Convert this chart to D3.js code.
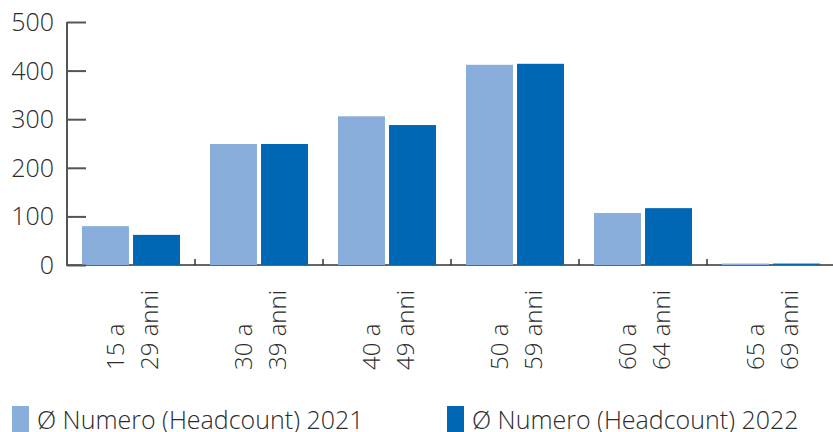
<!DOCTYPE html>
<html>
<head>
<meta charset="utf-8">
<script src="https://cdn.jsdelivr.net/npm/d3@7"></script>
<style>
  body { margin: 0; background: #fff; }
  svg { display: block; font-family: 'Open Sans', sans-serif; }
  .lbl { fill: #2b2b2b; font-weight: 300; }
</style>
</head>
<body>
<div id="main"></div>
<script>
const categories = ['15 a|29 anni', '30 a|39 anni', '40 a|49 anni', '50 a|59 anni', '60 a|64 anni', '65 a|69 anni'];
const seriesNames = ['Ø Numero (Headcount) 2021', 'Ø Numero (Headcount) 2022'];
const values2021 = [80, 249, 306, 412, 107, 3];
const values2022 = [62, 249, 288, 414, 117, 3];
const yTicks = [0, 100, 200, 300, 400, 500];
const colors = ['#8aaedb', '#0067b4'];

function main() {
  const width = 833;
  const height = 432;
  const left = 67;
  const right = 835;
  const top = 22;
  const bottom = 265;

  const svg = d3.select('#main')
    .append('svg')
    .attr('width', width)
    .attr('height', height);

  const x0 = d3.scaleBand()
    .domain(categories)
    .range([left, right]);

  const x1 = d3.scaleBand()
    .domain(seriesNames)
    .range([15, x0.bandwidth() - 15])
    .paddingInner(0.08);

  const yScale = d3.scaleLinear()
    .domain([0, 500])
    .range([bottom, top]);

  // x baseline
  svg.append('line')
    .attr('x1', left).attr('x2', width)
    .attr('y1', bottom).attr('y2', bottom)
    .attr('stroke', '#666')
    .attr('stroke-width', 2);

  // category boundary ticks
  svg.selectAll('line.xt')
    .data(categories.slice(1))
    .enter()
    .append('line')
    .attr('class', 'xt')
    .attr('x1', d => x0(d)).attr('x2', d => x0(d))
    .attr('y1', bottom - 6).attr('y2', bottom)
    .attr('stroke', '#333')
    .attr('stroke-width', 1.5);

  const rows = categories.map((c, i) => ({ cat: c, vals: [values2021[i], values2022[i]] }));

  const groups = svg.selectAll('g.cat')
    .data(rows)
    .enter()
    .append('g')
    .attr('class', 'cat')
    .attr('transform', d => `translate(${x0(d.cat)}, 0)`);

  groups.selectAll('rect')
    .data(d => d.vals.map((v, j) => ({ name: seriesNames[j], v, j })))
    .enter()
    .append('rect')
    .attr('x', d => x1(d.name))
    .attr('y', d => yScale(d.v))
    .attr('width', x1.bandwidth())
    .attr('height', d => bottom - yScale(d.v))
    .attr('fill', d => colors[d.j]);

  // y axis
  const yAxis = d3.axisRight(yScale)
    .tickValues(yTicks)
    .tickSize(19)
    .tickFormat('');

  const ya = svg.append('g')
    .attr('transform', `translate(${left}, 0)`)
    .call(yAxis);
  ya.select('.domain').attr('stroke', '#555').attr('stroke-width', 2)
    .attr('d', `M0,${top}V${bottom + 1}`);
  ya.selectAll('.tick line').attr('stroke', '#555').attr('stroke-width', 2);

  svg.selectAll('text.yl')
    .data(yTicks)
    .enter()
    .append('text')
    .attr('class', 'lbl')
    .attr('x', 54)
    .attr('y', d => yScale(d))
    .attr('dy', '0.36em')
    .attr('text-anchor', 'end')
    .style('font-size', '25px')
    .text(d => d);

  // category labels, rotated
  const cl = svg.selectAll('text.cl')
    .data(categories)
    .enter()
    .append('text')
    .attr('class', 'lbl')
    .attr('transform', d => `translate(${x0(d) + x0.bandwidth() / 2}, 370) rotate(-90)`)
    .attr('text-anchor', 'start')
    .style('font-size', '24px');

  cl.selectAll('tspan')
    .data(d => d.split('|'))
    .enter()
    .append('tspan')
    .attr('x', 0)
    .attr('y', (d, i) => (i === 0 ? -7 : 27))
    .text(d => d);

  // legend
  const legend = svg.selectAll('g.leg')
    .data(seriesNames)
    .enter()
    .append('g')
    .attr('class', 'leg')
    .attr('transform', (d, i) => `translate(${i === 0 ? 12 : 447}, 406)`);

  legend.append('rect')
    .attr('width', 17)
    .attr('height', 26)
    .attr('fill', (d, i) => colors[i]);

  legend.append('text')
    .attr('class', 'lbl')
    .attr('x', 25)
    .attr('y', 23)
    .style('font-size', '25px')
    .text(d => d);
}

main();
</script>
</body>
</html>
